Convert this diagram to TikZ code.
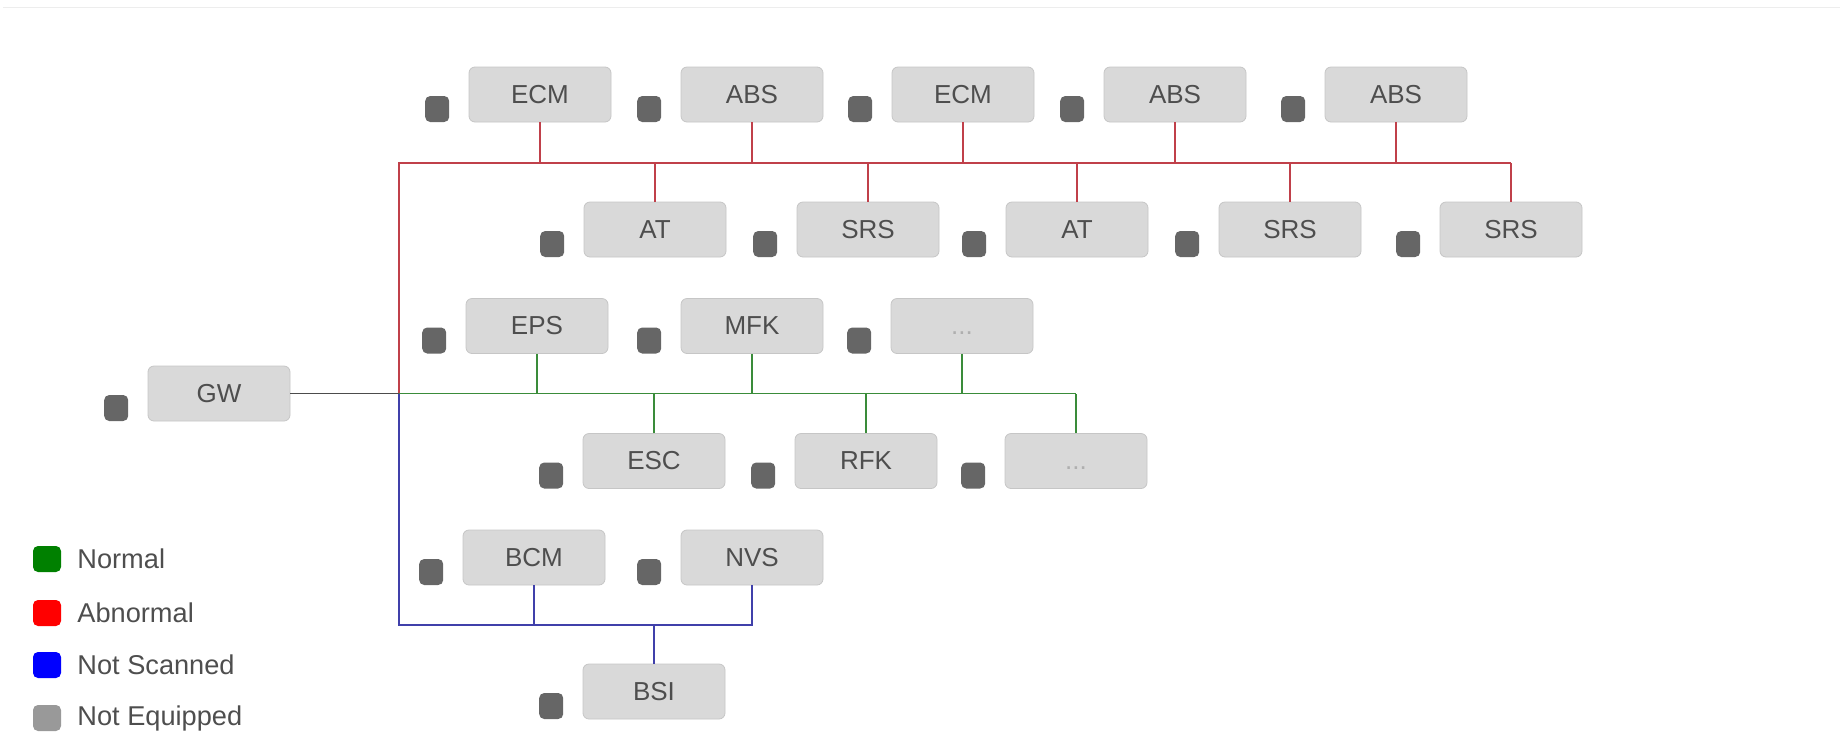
\documentclass[tikz,border=0pt]{standalone}
\usepackage{fontspec}
\setmainfont{Liberation Sans}
\usetikzlibrary{positioning}
\definecolor{ecufill}{RGB}{217,217,217}
\definecolor{eculine}{RGB}{198,198,198}
\definecolor{ledgray}{RGB}{102,102,102}
\definecolor{textgray}{RGB}{78,78,78}
\definecolor{busred}{RGB}{192,64,74}
\definecolor{busgreen}{RGB}{58,140,58}
\definecolor{busblue}{RGB}{64,64,170}
\definecolor{keygreen}{RGB}{0,128,0}
\definecolor{keyred}{RGB}{255,0,0}
\definecolor{keyblue}{RGB}{0,0,255}
\definecolor{keygray}{RGB}{153,153,153}
\newcommand{\moredots}{{\color{textgray!45}\raisebox{-4pt}[0pt][0pt]{...}}}

\begin{document}
\begin{tikzpicture}[x=0.5pt, y=-0.5pt,
	ecu/.style={rectangle, rounded corners=3pt, fill=ecufill, draw=eculine, minimum width=71pt, minimum height=27.5pt, inner sep=0pt, text=textgray, font=\fontsize{13}{15}\selectfont},
	led/.style={rectangle, rounded corners=2.5pt, fill=ledgray, minimum width=12pt, minimum height=13pt, inner sep=0pt},
	key/.style={led, minimum width=14pt},
	keytext/.style={anchor=west, inner sep=0pt, text=textgray, font=\fontsize{13.6}{15}\selectfont},
	abnormal/.style={busred, line width=0.8pt},
	normal/.style={busgreen, line width=0.8pt},
	notscanned/.style={busblue, line width=0.8pt}]
		\useasboundingbox (0,0) rectangle (1840,745);
		\draw[black!7] (3,7) -- (1840,7);
		% ECUs on the red bus
		\foreach \name/\x/\lbl in {ecma/540/ECM, absa/752/ABS, ecmb/963/ECM, absb/1175/ABS, absc/1396/ABS}{
		  \node[ecu] (\name) at (\x, 94.5) {\lbl};
		}
		\foreach \name/\x/\lbl in {ata/655/AT, srsa/868/SRS, atb/1077/AT, srsb/1290/SRS, srsc/1511/SRS}{
		  \node[ecu] (\name) at (\x, 229.5) {\lbl};
		}
		% ECUs on the green bus
		\node[ecu] (gw) at (219, 393.5) {GW};
		\foreach \name/\x/\lbl in {eps/537/EPS, mfk/752/MFK, moreb/962/\moredots}{
		  \node[ecu] (\name) at (\x, 326) {\lbl};
		}
		\foreach \name/\x/\lbl in {esc/654/ESC, rfk/866/RFK, morec/1076/\moredots}{
		  \node[ecu] (\name) at (\x, 461) {\lbl};
		}
		% ECUs on the blue bus
		\node[ecu] (bcm) at (534, 557.5) {BCM};
		\node[ecu] (nvs) at (752, 557.5) {NVS};
		\node[ecu] (bsi) at (654, 691.5) {BSI};
		% status leds
		\foreach \name in {ecma,absa,ecmb,absb,absc,ata,srsa,atb,srsb,srsc,gw,eps,mfk,moreb,esc,rfk,morec,bcm,nvs,bsi}{
		  \node[led, anchor=south east] (\name-led) at ([xshift=-9.5pt]\name.south west) {};
		}
		% buses
		\coordinate (redl) at (399,163);
		\coordinate (redr) at (1511,163);
		\coordinate (greenl) at (399,393.5);
		\coordinate (greenr) at (1076,393.5);
		\coordinate (bluel) at (399,625);
		\coordinate (bluer) at (752,625);
		\draw[abnormal] (greenl) -- (redl) -- (redr);
		\foreach \name in {ecma,absa,ecmb,absb,absc}{
		  \draw[abnormal] (\name.south) -- (\name.south |- redl);
		}
		\foreach \name in {ata,srsa,atb,srsb,srsc}{
		  \draw[abnormal] (\name.north) -- (\name.north |- redl);
		}
		\draw[black!70, line width=0.8pt] (gw.east) -- (greenl);
		\draw[normal] (greenl) -- (greenr);
		\foreach \name in {eps,mfk,moreb}{
		  \draw[normal] (\name.south) -- (\name.south |- greenl);
		}
		\foreach \name in {esc,rfk,morec}{
		  \draw[normal] (\name.north) -- (\name.north |- greenl);
		}
		\draw[notscanned] (greenl) -- (bluel) -- (bluer) -- (nvs.south);
		\draw[notscanned] (bcm.south) -- (bcm.south |- bluel);
		\draw[notscanned] (bsi.north) -- (bsi.north |- bluel);
		% legend
		\node[key, fill=keygreen] (knormal) at (47,559) {};
		\node[key, fill=keyred] (kabnormal) at (47,613) {};
		\node[key, fill=keyblue] (kscanned) at (47,665) {};
		\node[key, fill=keygray] (kequipped) at (47,718) {};
		\node[keytext] (tnormal) at (77,559) {Normal};
		\node[keytext] (tabnormal) at (77,613) {Abnormal};
		\node[keytext] (tscanned) at (77,665) {Not Scanned};
		\node[keytext] (tequipped) at (77,718) {Not Equipped};
	\end{tikzpicture}
\end{document}
